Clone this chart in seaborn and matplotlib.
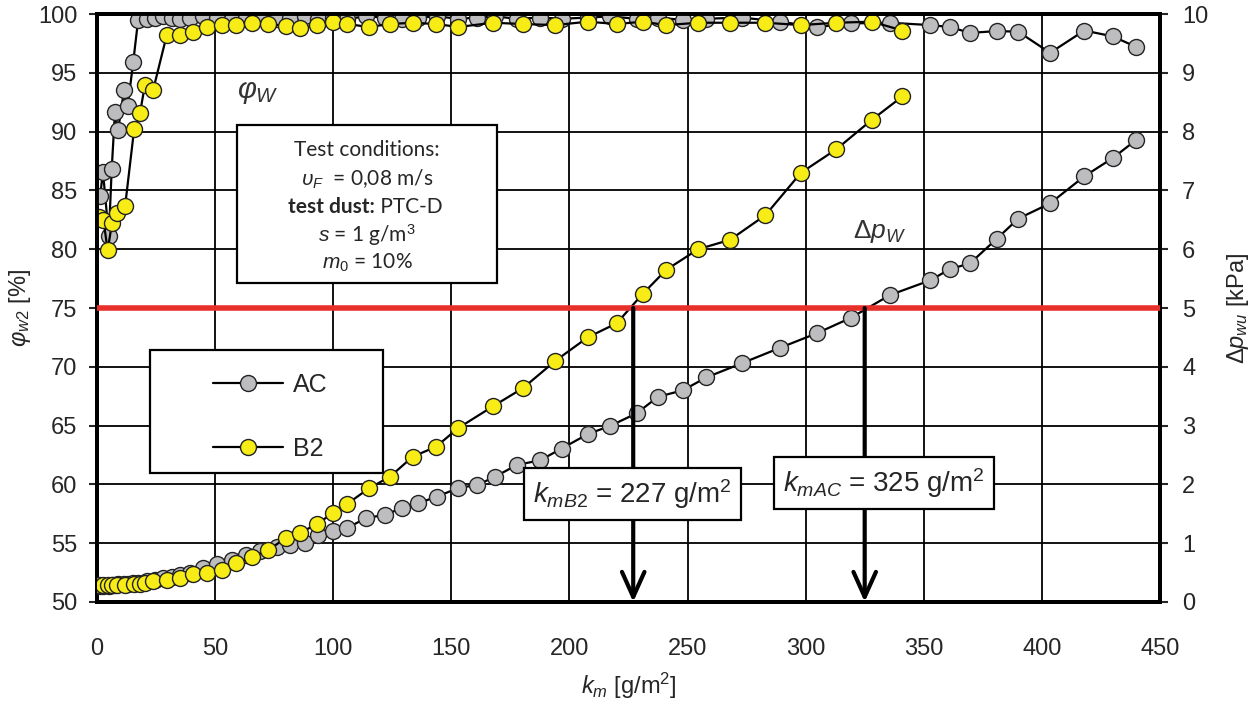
import numpy as np
import pandas as pd
import matplotlib
matplotlib.use("Agg")
import matplotlib.pyplot as plt
import seaborn as sns
from matplotlib.patches import Rectangle
from matplotlib.lines import Line2D

# ---------------- data ----------------
ac_km = [1.3, 2.5, 5.0, 6.2, 7.6, 8.9, 11.4, 13.0, 15.3, 17.4, 21.0, 24.5, 28.0, 31.7, 35.0,
         39.4, 45.0, 50.7, 57.0, 63.0, 69.0, 76.0, 81.7, 88.0, 93.6, 100.0, 106.0, 114.0,
         122.0, 129.0, 136.0, 143.8, 153.0, 161.0, 168.5, 177.7, 187.6, 196.7, 208.0,
         217.0, 228.5, 237.5, 248.0, 258.0, 273.0, 289.0, 304.7, 319.0, 335.7, 352.7,
         361.0, 369.6, 381.0, 390.0, 403.5, 418.0, 430.0, 440.0]
ac_eff = [84.5, 86.6, 81.1, 86.8, 91.7, 90.1, 93.5, 92.2, 95.9, 99.5, 99.6, 99.7, 99.8, 99.7,
          99.6, 99.7, 99.8, 99.7, 99.6, 99.7, 99.8, 99.6, 99.7, 99.8, 99.6, 99.7, 99.6, 99.8,
          99.7, 99.6, 99.7, 99.8, 99.6, 99.7, 99.8, 99.6, 99.7, 99.6, 99.7, 99.8, 99.6,
          99.7, 99.5, 99.6, 99.7, 99.35, 98.9, 99.2, 99.26, 99.06, 98.9, 98.4, 98.55, 98.5,
          96.7, 98.6, 98.1, 97.2]
ac_dp = [0.27, 0.28, 0.28, 0.29, 0.29, 0.30, 0.30, 0.31, 0.32, 0.33, 0.35, 0.37, 0.40, 0.43,
         0.46, 0.50, 0.58, 0.65, 0.72, 0.80, 0.86, 0.94, 0.97, 1.00, 1.14, 1.20, 1.26, 1.43,
         1.48, 1.60, 1.68, 1.79, 1.94, 1.99, 2.13, 2.33, 2.41, 2.61, 2.86, 2.99, 3.21, 3.49,
         3.60, 3.82, 4.06, 4.32, 4.57, 4.83, 5.22, 5.47, 5.66, 5.76, 6.18, 6.52, 6.78, 7.24,
         7.55, 7.86]

b2_km = [0.8, 2.7, 4.5, 6.3, 8.3, 11.9, 15.7, 18.2, 20.3, 23.7, 29.5, 35.0, 40.7, 46.4, 52.8,
         59.0, 65.5, 72.4, 80.0, 86.0, 93.0, 100.0, 106.0, 115.0, 124.0, 133.6, 143.5, 153.0,
         167.7, 180.4, 194.0, 207.7, 220.0, 231.0, 241.0, 254.5, 268.0, 283.0, 298.0, 313.0,
         328.0, 341.0]
b2_eff = [82.7, 82.5, 79.9, 82.2, 83.1, 83.7, 90.2, 91.6, 94.0, 93.5, 98.2, 98.2, 98.5, 98.9,
          99.06, 99.1, 99.2, 99.15, 99.0, 98.8, 99.06, 99.35, 99.15, 98.9, 99.15, 99.26, 99.15,
          98.9, 99.26, 99.15, 99.06, 99.35, 99.15, 99.35, 99.06, 99.26, 99.26, 99.26, 99.06,
          99.26, 99.35, 98.6]
b2_dp = [0.29, 0.29, 0.29, 0.29, 0.29, 0.29, 0.30, 0.30, 0.32, 0.35, 0.37, 0.40, 0.47, 0.50,
         0.54, 0.66, 0.77, 0.88, 1.09, 1.17, 1.33, 1.51, 1.67, 1.93, 2.13, 2.47, 2.64, 2.96,
         3.33, 3.64, 4.10, 4.50, 4.74, 5.24, 5.65, 6.00, 6.16, 6.58, 7.30, 7.70, 8.20, 8.60]

series_names = ["AC", "B2"]
limit_dp = 5.0
km_limit = [227, 325]
x_ticks = [0, 50, 100, 150, 200, 250, 300, 350, 400, 450]
eff_ticks = [50, 55, 60, 65, 70, 75, 80, 85, 90, 95, 100]
dp_ticks = [0, 1, 2, 3, 4, 5, 6, 7, 8, 9, 10]

# ---------------- style ----------------
sns.set_style("white")
plt.rcParams["font.family"] = ["Liberation Sans", "DejaVu Sans"]
plt.rcParams["mathtext.fontset"] = "custom"
plt.rcParams["mathtext.rm"] = "Liberation Sans"
plt.rcParams["mathtext.it"] = "Liberation Sans:italic"
plt.rcParams["mathtext.bf"] = "Liberation Sans:bold"

GRAY = "#BDBDC0"
YELLOW = "#F7EC16"

fig = plt.figure(figsize=(12.49, 7.02), dpi=100)
ax = fig.add_axes([0.0777, 0.1425, 0.851, 0.8375])
ax2 = ax.twinx()

df_ac = pd.DataFrame({"km": ac_km, "eff": ac_eff, "dp": ac_dp})
df_b2 = pd.DataFrame({"km": b2_km, "eff": b2_eff, "dp": b2_dp})

mk = dict(marker="o", markersize=11.5, markeredgecolor="#222222", markeredgewidth=1.0,
          color="black", linewidth=1.6, estimator=None, errorbar=None)

sns.lineplot(data=df_ac, x="km", y="eff", ax=ax, markerfacecolor=GRAY, zorder=3, **mk)
sns.lineplot(data=df_b2, x="km", y="eff", ax=ax, markerfacecolor=YELLOW, zorder=4, **mk)
sns.lineplot(data=df_ac, x="km", y="dp", ax=ax2, markerfacecolor=GRAY, zorder=3, **mk)
sns.lineplot(data=df_b2, x="km", y="dp", ax=ax2, markerfacecolor=YELLOW, zorder=4, **mk)

ax.set_xlim(0, 450)
ax.set_ylim(50, 100)
ax2.set_ylim(0, 10)
ax.set_xticks(x_ticks)
ax.set_yticks(eff_ticks)
ax2.set_yticks(dp_ticks)
ax.grid(True, color="black", linewidth=1.3)
ax.set_axisbelow(True)

for a in (ax, ax2):
    for s in a.spines.values():
        s.set_linewidth(2.8)
        s.set_color("black")

ax.tick_params(axis="x", direction="out", length=6, width=1.5, pad=20, labelsize=17)
ax.tick_params(axis="y", direction="out", length=6, width=1.5, pad=8, labelsize=17)
ax2.tick_params(axis="y", direction="out", length=6, width=1.5, pad=10, labelsize=17)

ax.set_xlabel(r"$k_m$ [g/m$^2$]", fontsize=17, labelpad=8)
ax.set_ylabel(r"$\varphi_{w2}$ [%]", fontsize=17, labelpad=4)
ax2.set_ylabel(r"$\Delta p_{wu}$ [kPa]", fontsize=17, labelpad=12)

# red limit line
ax2.axhline(limit_dp, color="#E8302A", linewidth=4, zorder=5)

# arrows
for k in km_limit:
    ax2.annotate("", xy=(k, 0.0), xytext=(k, limit_dp),
                 arrowprops=dict(arrowstyle="->,head_length=1.0,head_width=0.45",
                                 mutation_scale=18, lw=3.0, color="black",
                                 shrinkA=0, shrinkB=0),
                 zorder=6)

def phi2dp(v):
    return (v - 50) / 5.0

# text boxes (k_m values)
ax2.text(226.5, phi2dp(59.2), r"$k_{mB2}$ = 227 g/m$^2$", fontsize=20, ha="center", va="center",
         zorder=8,
         bbox=dict(boxstyle="square,pad=0.33", fc="white", ec="black", lw=1.6))
ax2.text(333, phi2dp(60.15), r"$k_{mAC}$ = 325 g/m$^2$", fontsize=20, ha="center", va="center",
         zorder=8,
         bbox=dict(boxstyle="square,pad=0.33", fc="white", ec="black", lw=1.6))

# test conditions box
ax2.add_patch(Rectangle((59.3, phi2dp(77.1)), 110.1, phi2dp(90.56) - phi2dp(77.1),
                        facecolor="white", edgecolor="black", linewidth=1.6, zorder=7))
tc_font = ["Lato", "DejaVu Sans"]
tc_lines = ["Test conditions:", r"$\upsilon_F$  = 0,08 m/s", None,
            r"$s$ = 1 g/m$^3$", r"$m_0$ = 10%"]
tc_y = [88.4, 85.9, 83.6, 81.2, 78.8]
for t, yy in zip(tc_lines, tc_y):
    if t is None:
        continue
    ax2.text(114.3, phi2dp(yy), t, fontsize=15, ha="center", va="center", zorder=8,
             family=tc_font)
ax2.text(117.7, phi2dp(83.6), "test dust:", fontsize=15, ha="right", va="center", zorder=8,
         family=tc_font, fontweight="bold")
ax2.text(117.7, phi2dp(83.6), " PTC-D", fontsize=15, ha="left", va="center", zorder=8,
         family=tc_font)

# curve labels
ax2.text(68.2, phi2dp(93.4), r"$\varphi_W$", fontsize=21, ha="center", va="center", zorder=8,
         color="#333333")
ax2.text(331.5, phi2dp(81.5), r"$\Delta p_W$", fontsize=19, ha="center", va="center", zorder=8,
         color="#333333")

# legend (frame drawn as a box, entries centred inside)
ax2.add_patch(Rectangle((22.4, phi2dp(61.0)), 98.6, phi2dp(71.4) - phi2dp(61.0),
                        facecolor="white", edgecolor="black", linewidth=1.6, zorder=8))
handles = [Line2D([], [], color="black", lw=1.6, marker="o", markersize=11.5,
                  markerfacecolor=c, markeredgecolor="#222222")
           for c in (GRAY, YELLOW)]
leg = ax2.legend(handles, series_names, loc="center",
                 bbox_to_anchor=(73.5, phi2dp(65.75)), bbox_transform=ax2.transData,
                 fontsize=18, frameon=False, handlelength=2.8,
                 labelspacing=1.6, borderpad=0, handletextpad=0.4, borderaxespad=0)
leg.set_zorder(9)

fig.savefig("out.png", dpi=100)
